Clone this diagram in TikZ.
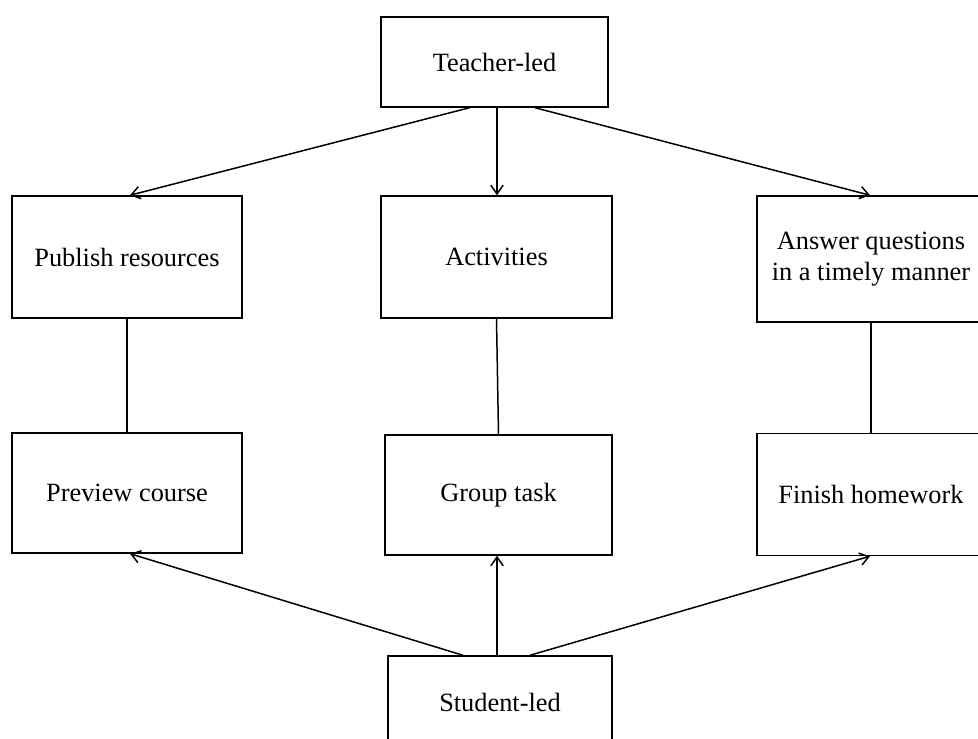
\documentclass[tikz,border=0pt]{standalone}
\usepackage{fontspec}
\setmainfont{Liberation Serif}
\usetikzlibrary{calc,arrows.meta}

\begin{document}
\begin{tikzpicture}[x=0.02cm, y=-0.02cm, line width=0.85pt,
	box/.style={draw, rectangle, inner sep=0pt, align=center, font=\fontsize{15}{18}\selectfont},
	arr/.style={-{Straight Barb[length=5pt, width=7pt]}}]
			%%%%% START %%%%%
			
			\useasboundingbox (0, 0) rectangle (978, 739);
			
			\node[box, minimum width=4.54cm, minimum height=1.8cm] (teacher) at (494.5, 62) {Teacher-led};
			
			\node[box, minimum width=4.6cm, minimum height=2.44cm] (publish) at (127, 257) {Publish resources};
			\node[box, minimum width=4.62cm, minimum height=2.44cm] (activities) at (496.5, 257) {Activities};
			\node[box, minimum width=4.56cm, minimum height=2.52cm] (answer) at (871, 259) {Answer questions\\in a timely manner};
			
			\node[box, minimum width=4.6cm, minimum height=2.4cm] (preview) at (127, 493) {Preview course};
			\node[box, minimum width=4.54cm, minimum height=2.4cm] (group) at (498.5, 495) {Group task};
			\node[box, minimum width=4.56cm, minimum height=2.44cm] (finish) at (871, 494.5) {Finish homework};
			
			\node[box, minimum width=4.48cm, minimum height=1.84cm] (student) at (500, 702) {Student-led};
			
			\draw[arr] ($(teacher.south)+(-25, 0)$) -- ($(publish.north)+(3, 0)$);
			\draw[arr] ($(teacher.south)+(2.5, 0)$) -- ($(activities.north)+(0.5, 0)$);
			\draw[arr] ($(teacher.south)+(40.5, 0)$) -- ($(answer.north)+(-1, 0)$);
			
			\draw (publish.south) -- (preview.north);
			\draw (activities.south) -- (group.north);
			\draw (answer.south) -- (finish.north);
			
			\draw[arr] ($(student.north)+(-37, 0)$) -- ($(preview.south)+(3, 0)$);
			\draw[arr] ($(student.north)+(-3, 0)$) -- ($(group.south)+(-1.5, 0)$);
			\draw[arr] ($(student.north)+(30, 0)$) -- ($(finish.south)+(-1, 0)$);
			
			%%%%% END %%%%%
		\end{tikzpicture}
\end{document}
